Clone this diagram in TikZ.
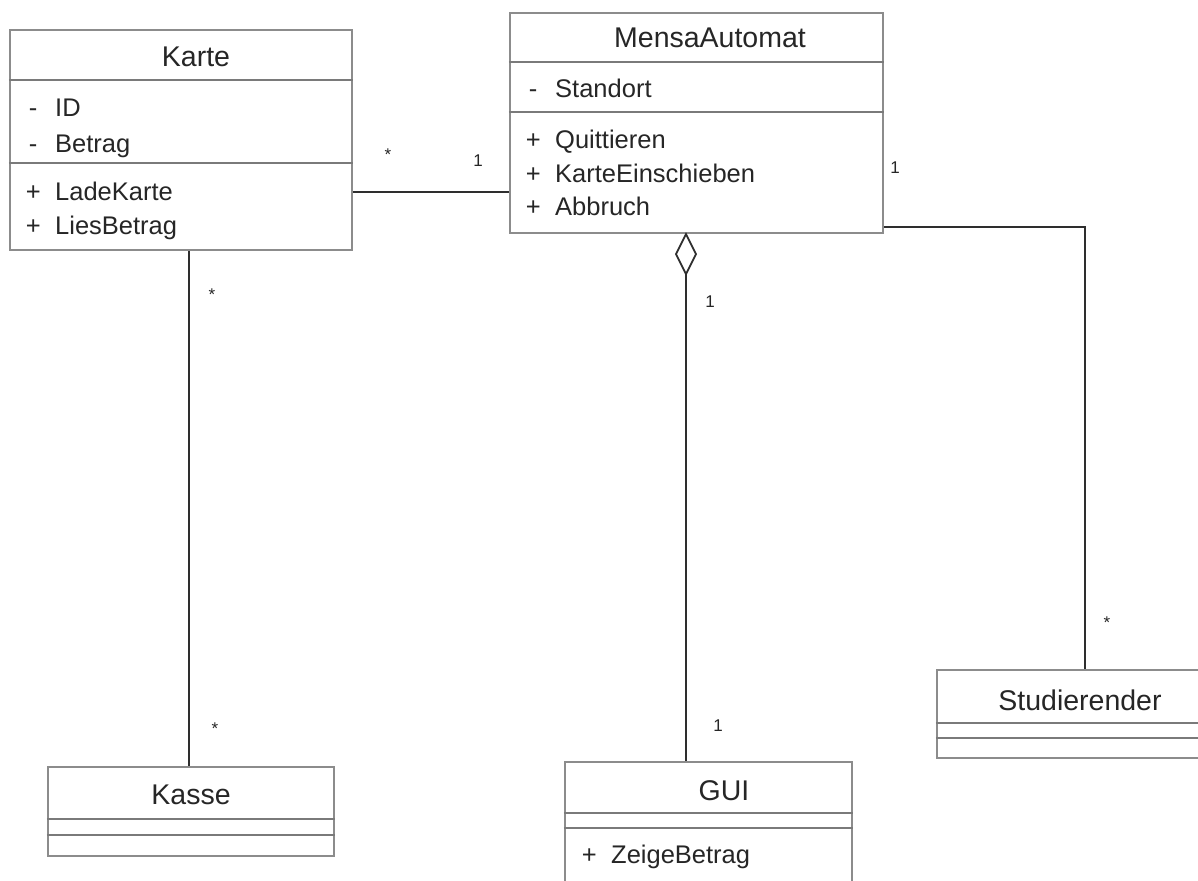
\documentclass[tikz,border=0pt]{standalone}
\usepackage{fontspec}
\setmainfont{Liberation Sans}
\definecolor{boxgray}{HTML}{8C8C8C}
\definecolor{sepgray}{HTML}{7A7A7A}
\definecolor{linedark}{HTML}{2E2E2E}
\definecolor{inkdark}{HTML}{262626}
\newcommand{\clsfont}{\fontsize{28.5pt}{32pt}\selectfont}
\newcommand{\memfont}{\fontsize{25.5pt}{28pt}\selectfont}
\newcommand{\multfont}{\fontsize{17pt}{19pt}\selectfont}
\newcommand{\mem}[2]{\makebox[44pt][c]{#1}#2}
\begin{document}
\begin{tikzpicture}[x=1pt,y=-1pt,
  classbox/.style={draw=boxgray, line width=2.4pt, rectangle, inner sep=0pt, fill=white},
  sepline/.style={draw=sepgray, line width=2pt},
  conn/.style={draw=linedark, line width=2pt},
  clsname/.style={font=\clsfont, text=inkdark, inner sep=0pt, anchor=base},
  member/.style={font=\memfont, text=inkdark, inner sep=0pt, anchor=base west},
  mult/.style={font=\multfont, text=inkdark, inner sep=0pt},
  star/.style={font=\multfont, text=inkdark, inner sep=0pt, anchor=north}
]
\useasboundingbox (0,0) rectangle (1198,880);
\fill[white] (0,0) rectangle (1198,880);
\clip (0,0) rectangle (1198,880);

% ---------- class Karte ----------
\node[classbox, minimum width=342pt, minimum height=220pt] (karte) at (181,140) {};
\draw[sepline] (karte.west |- 0,80) -- (karte.east |- 0,80);
\draw[sepline] (karte.west |- 0,163) -- (karte.east |- 0,163);
\node[clsname] (karteName) at (196,67) {Karte};
\node[member] (karteID) at (11,117) {\mem{-}{ID}};
\node[member] (karteBetrag) at (11,152) {\mem{-}{Betrag}};
\node[member] (karteLade) at (11,200) {\mem{+}{LadeKarte}};
\node[member] (karteLies) at (11,234) {\mem{+}{LiesBetrag}};

% ---------- class MensaAutomat ----------
\node[classbox, minimum width=373pt, minimum height=220pt] (mensa) at (696.5,123) {};
\draw[sepline] (mensa.west |- 0,62) -- (mensa.east |- 0,62);
\draw[sepline] (mensa.west |- 0,112) -- (mensa.east |- 0,112);
\node[clsname] (mensaName) at (710,48) {MensaAutomat};
\node[member] (mensaStandort) at (511,98) {\mem{-}{Standort}};
\node[member] (mensaQuit) at (511,148) {\mem{+}{Quittieren}};
\node[member] (mensaEin) at (511,182) {\mem{+}{KarteEinschieben}};
\node[member] (mensaAbbruch) at (511,215) {\mem{+}{Abbruch}};

% ---------- class Kasse ----------
\node[classbox, minimum width=286pt, minimum height=89pt] (kasse) at (191,811.5) {};
\draw[sepline] (kasse.west |- 0,819) -- (kasse.east |- 0,819);
\draw[sepline] (kasse.west |- 0,835) -- (kasse.east |- 0,835);
\node[clsname] (kasseName) at (191,804) {Kasse};

% ---------- class GUI ----------
\node[classbox, minimum width=287pt, minimum height=138pt] (gui) at (708.5,831) {};
\draw[sepline] (gui.west |- 0,813) -- (gui.east |- 0,813);
\draw[sepline] (gui.west |- 0,828) -- (gui.east |- 0,828);
\node[clsname] (guiName) at (724,800) {GUI};
\node[member] (guiZeige) at (567,863) {\mem{+}{ZeigeBetrag}};

% ---------- class Studierender ----------
\node[classbox, minimum width=283pt, minimum height=88pt] (studi) at (1078.5,714) {};
\draw[sepline] (studi.west |- 0,723) -- (studi.east |- 0,723);
\draw[sepline] (studi.west |- 0,738) -- (studi.east |- 0,738);
\node[clsname] (studiName) at (1080,710) {Studierender};

% ---------- associations ----------
\draw[conn] (karte.east |- 0,192) -- (mensa.west |- 0,192);
\draw[conn] (karte.south -| 189,0) -- (kasse.north -| 189,0);
\draw[conn] (mensa.east |- 0,227) -| (studi.north -| 1085,0);

% aggregation MensaAutomat <>-- GUI
\coordinate (aggTop) at (mensa.south -| 686,0);
\coordinate (aggBottom) at ([yshift=-40pt]aggTop);
\draw[conn, line width=1.8pt, fill=white] (aggTop) -- ([xshift=10pt,yshift=-20pt]aggTop)
  -- (aggBottom) -- ([xshift=-10pt,yshift=-20pt]aggTop) -- cycle;
\draw[conn] (aggBottom) -- (gui.north -| aggBottom);

% ---------- multiplicities ----------
\node[star] (mKarteM) at (388,149) {*};
\node[mult] (mMensaK) at (478,161) {1};
\node[mult] (mMensaS) at (895,168) {1};
\node[star] (mStudi) at (1107,617) {*};
\node[star] (mKarteK) at (212,289) {*};
\node[star] (mKasse) at (215,723) {*};
\node[mult] (mMensaG) at (710,302) {1};
\node[mult] (mGui) at (718,726) {1};
\end{tikzpicture}
\end{document}
